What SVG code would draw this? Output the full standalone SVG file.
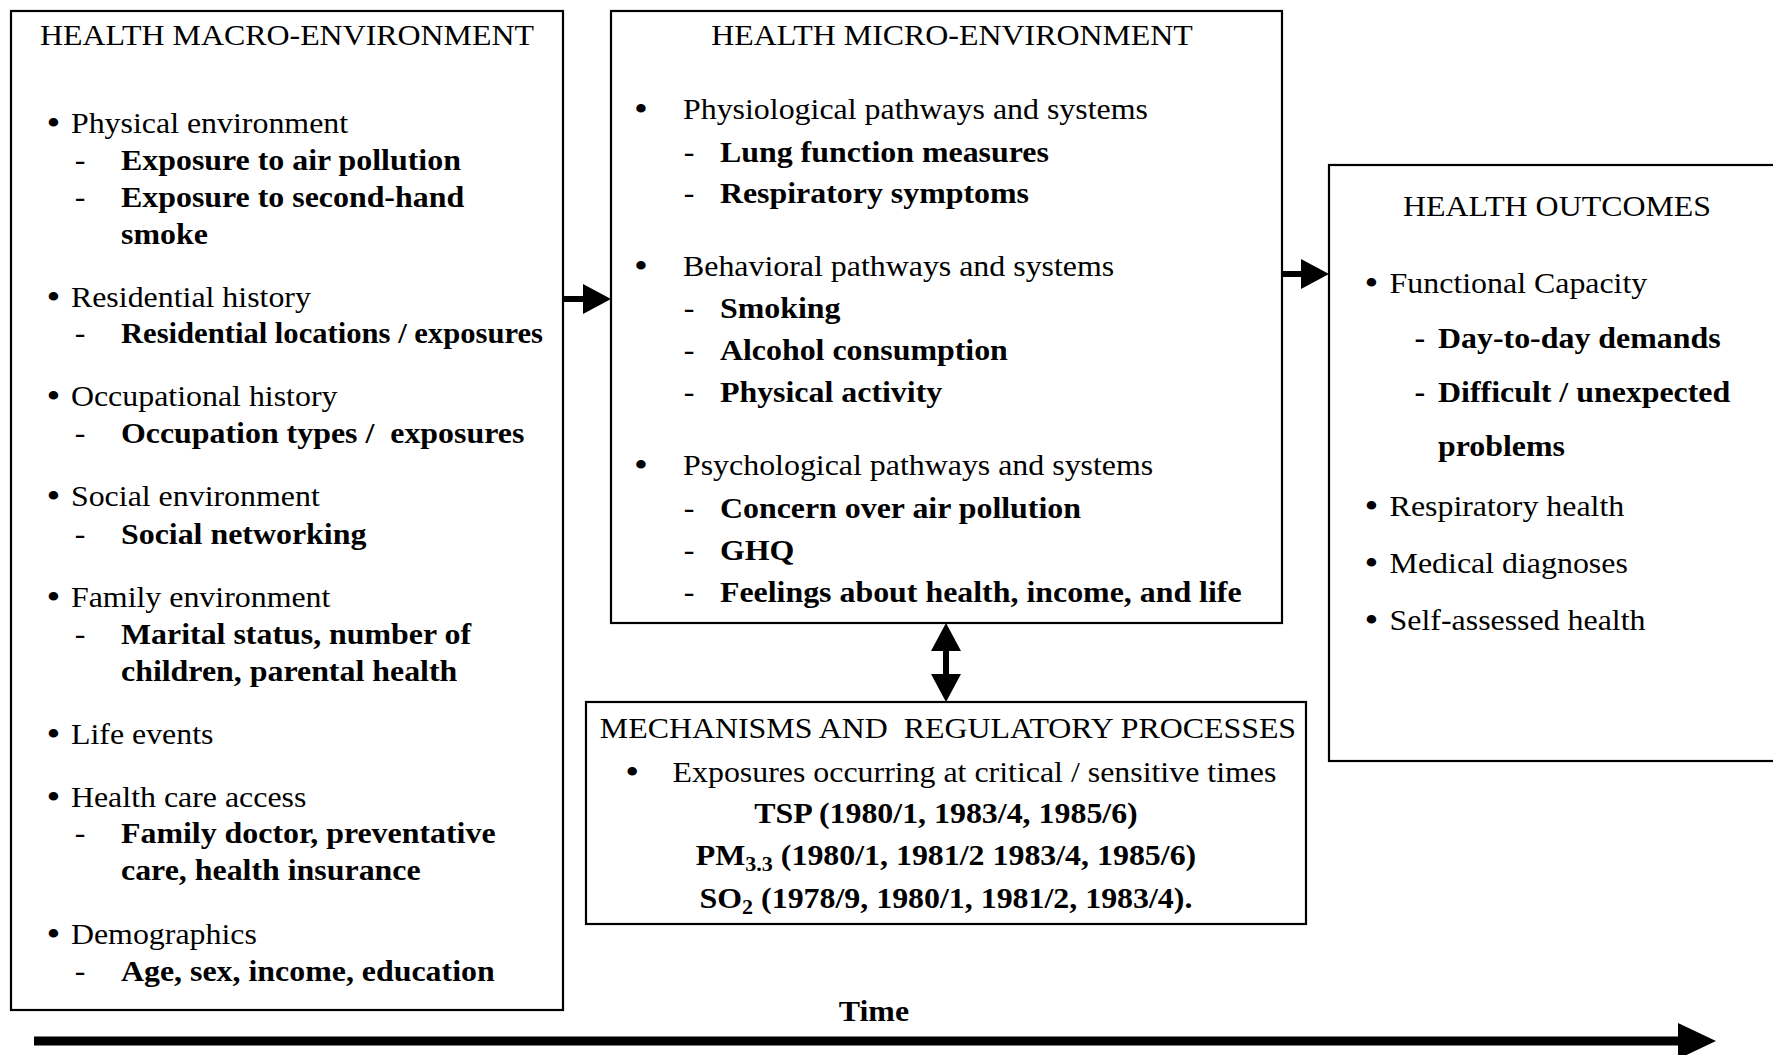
<svg xmlns="http://www.w3.org/2000/svg" width="1773" height="1055" viewBox="0 0 1773 1055">
  <style>
    .t { font-family: "Liberation Serif", "Times New Roman", serif; font-size: 29px; fill: #000; }
    .b { font-weight: bold; }
    .c { text-anchor: middle; }
    .bl { font-size: 36px; }
    .box { fill: #fff; stroke: #000; stroke-width: 2.2; }
    .conn { fill: none; stroke: #000; }
    .sub { font-size: 20px; }
  </style>
  <defs>
    <marker id="head" viewBox="0 0 28 30" refX="1" refY="15" markerWidth="28" markerHeight="30" markerUnits="userSpaceOnUse" orient="auto-start-reverse">
      <path d="M0,0 L28,15 L0,30 Z" fill="#000"/>
    </marker>
    <marker id="headBig" viewBox="0 0 38 36" refX="1" refY="18" markerWidth="38" markerHeight="36" markerUnits="userSpaceOnUse" orient="auto">
      <path d="M0,0 L38,18 L0,36 Z" fill="#000"/>
    </marker>
  </defs>

  <rect width="1773" height="1055" fill="#fff"/>

  <!-- Health macro-environment -->
  <g id="macro">
    <rect class="box" x="11" y="11" width="552" height="999"/>
    <g class="t" transform="scale(1.1 1)">
      <text class="c" x="260.9" y="45">HEALTH MACRO-ENVIRONMENT</text>
      <text class="bl" x="42.3" y="133.5" dy="2">•</text><text x="64.5" y="133.5">Physical environment</text>
      <text x="67.9" y="170.5">-</text><text class="b" x="110" y="170.5">Exposure to air pollution</text>
      <text x="67.9" y="207.5">-</text><text class="b" x="110" y="207.5">Exposure to second-hand</text>
      <text class="b" x="110" y="244">smoke</text>
      <text class="bl" x="42.3" y="307.5" dy="2">•</text><text x="64.5" y="307.5">Residential history</text>
      <text x="67.9" y="343.5">-</text><text class="b" x="110" y="343.5" textLength="383.6" lengthAdjust="spacingAndGlyphs">Residential locations / exposures</text>
      <text class="bl" x="42.3" y="406" dy="2">•</text><text x="64.5" y="406">Occupational history</text>
      <text x="67.9" y="443">-</text><text class="b" x="110" y="443">Occupation types /&#160; exposures</text>
      <text class="bl" x="42.3" y="506.5" dy="2">•</text><text x="64.5" y="506.5">Social environment</text>
      <text x="67.9" y="544">-</text><text class="b" x="110" y="544">Social networking</text>
      <text class="bl" x="42.3" y="607" dy="2">•</text><text x="64.5" y="607">Family environment</text>
      <text x="67.9" y="644.5">-</text><text class="b" x="110" y="644.5">Marital status, number of</text>
      <text class="b" x="110" y="681">children, parental health</text>
      <text class="bl" x="42.3" y="744" dy="2">•</text><text x="64.5" y="744">Life events</text>
      <text class="bl" x="42.3" y="807" dy="2">•</text><text x="64.5" y="807">Health care access</text>
      <text x="67.9" y="843.5">-</text><text class="b" x="110" y="843.5">Family doctor, preventative</text>
      <text class="b" x="110" y="880.5">care, health insurance</text>
      <text class="bl" x="42.3" y="944" dy="2">•</text><text x="64.5" y="944">Demographics</text>
      <text x="67.9" y="981">-</text><text class="b" x="110" y="981">Age, sex, income, education</text>
    </g>
  </g>

  <!-- Health micro-environment -->
  <g id="micro">
    <rect class="box" x="611" y="11" width="671" height="612"/>
    <g class="t" transform="scale(1.1 1)">
      <text class="c" x="865.5" y="45">HEALTH MICRO-ENVIRONMENT</text>
      <text class="bl" x="576.4" y="118.7" dy="2">•</text><text x="620.9" y="118.7">Physiological pathways and systems</text>
      <text x="621.5" y="161.7">-</text><text class="b" x="654.5" y="161.7">Lung function measures</text>
      <text x="621.5" y="203.5">-</text><text class="b" x="654.5" y="203.5">Respiratory symptoms</text>
      <text class="bl" x="576.4" y="276" dy="2">•</text><text x="620.9" y="276">Behavioral pathways and systems</text>
      <text x="621.5" y="318.5">-</text><text class="b" x="654.5" y="318.5">Smoking</text>
      <text x="621.5" y="360.5">-</text><text class="b" x="654.5" y="360.5">Alcohol consumption</text>
      <text x="621.5" y="402.5">-</text><text class="b" x="654.5" y="402.5">Physical activity</text>
      <text class="bl" x="576.4" y="475" dy="2">•</text><text x="620.9" y="475">Psychological pathways and systems</text>
      <text x="621.5" y="518">-</text><text class="b" x="654.5" y="518">Concern over air pollution</text>
      <text x="621.5" y="560">-</text><text class="b" x="654.5" y="560">GHQ</text>
      <text x="621.5" y="602.5">-</text><text class="b" x="654.5" y="602.5">Feelings about health, income, and life</text>
    </g>
  </g>

  <!-- Mechanisms and regulatory processes -->
  <g id="mechanisms">
    <rect class="box" x="586" y="702" width="720" height="222"/>
    <g class="t" transform="scale(1.1 1)">
      <text class="c" x="861.8" y="738">MECHANISMS AND&#160; REGULATORY PROCESSES</text>
      <text class="bl" x="568.3" y="782.5" dy="2">•</text><text x="611.4" y="782.5">Exposures occurring at critical / sensitive times</text>
      <text class="b c" x="860" y="823">TSP (1980/1, 1983/4, 1985/6)</text>
      <text class="b c" x="860" y="865">PM<tspan class="sub" dy="6">3.3</tspan><tspan dy="-6"> (1980/1, 1981/2 1983/4, 1985/6)</tspan></text>
      <text class="b c" x="860" y="908">SO<tspan class="sub" dy="6">2</tspan><tspan dy="-6"> (1978/9, 1980/1, 1981/2, 1983/4).</tspan></text>
    </g>
  </g>

  <!-- Health outcomes (box runs past the right edge) -->
  <g id="outcomes">
    <rect class="box" x="1329" y="165" width="500" height="596"/>
    <g class="t" transform="scale(1.1 1)">
      <text class="c" x="1415.5" y="216.5">HEALTH OUTCOMES</text>
      <text class="bl" x="1240.5" y="293" dy="2">•</text><text x="1263.3" y="293">Functional Capacity</text>
      <text class="b" x="1286" y="348">-</text><text class="b" x="1307.3" y="348">Day-to-day demands</text>
      <text class="b" x="1286" y="402">-</text><text class="b" x="1307.3" y="402">Difficult / unexpected</text>
      <text class="b" x="1307.3" y="456">problems</text>
      <text class="bl" x="1240.5" y="516" dy="2">•</text><text x="1263.3" y="516">Respiratory health</text>
      <text class="bl" x="1240.5" y="573" dy="2">•</text><text x="1263.3" y="573">Medical diagnoses</text>
      <text class="bl" x="1240.5" y="630" dy="2">•</text><text x="1263.3" y="630">Self-assessed health</text>
    </g>
  </g>

  <!-- Time axis -->
  <g id="time">
    <g class="t" transform="scale(1.1 1)">
      <text class="b c" x="794.5" y="1021.5">Time</text>
    </g>
  </g>

  <!-- Connectors -->
  <g id="connectors">
    <path class="conn" d="M563,299 H584" stroke-width="6" marker-end="url(#head)"/>
    <path class="conn" d="M1282,274 H1302" stroke-width="6" marker-end="url(#head)"/>
    <path class="conn" d="M946,650 V675" stroke-width="6" marker-start="url(#head)" marker-end="url(#head)"/>
    <path class="conn" d="M34,1041 H1679" stroke-width="9" marker-end="url(#headBig)"/>
  </g>
</svg>
